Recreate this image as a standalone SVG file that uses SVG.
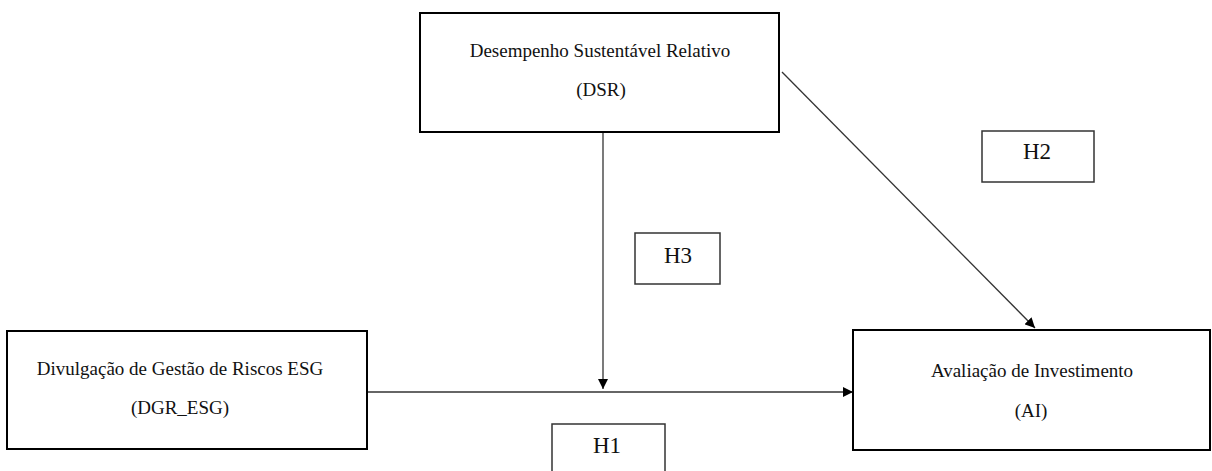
<svg xmlns="http://www.w3.org/2000/svg" width="1212" height="471" viewBox="0 0 1212 471">
<defs>
<style>
.node{fill:#fff;stroke:#000;stroke-width:2}
.hbox{fill:#fff;stroke:#333;stroke-width:1.5}
.t{font-family:"Liberation Serif","Times New Roman",serif;font-size:19px;fill:#111;text-anchor:middle}
.h{font-family:"Liberation Serif","Times New Roman",serif;font-size:23px;fill:#111;text-anchor:middle}
.edge{stroke:#333;stroke-width:1.3;fill:none}
</style>
<marker id="arr" viewBox="0 0 10 10" refX="10" refY="5" markerWidth="10" markerHeight="10" markerUnits="userSpaceOnUse" orient="auto">
<path d="M0,0 L10,5 L0,10 z" fill="#000"/>
</marker>
</defs>
<rect width="1212" height="471" fill="#fff"/>
<g id="connectors">
<line class="edge" x1="367" y1="392" x2="853" y2="392" marker-end="url(#arr)"/>
<line class="edge" x1="603" y1="132" x2="603" y2="389" marker-end="url(#arr)"/>
<line class="edge" x1="782" y1="72" x2="1035" y2="328" marker-end="url(#arr)"/>
</g>
<g id="node-dsr">
<rect class="node" x="420" y="13" width="359" height="119"/>
<text class="t" x="600" y="57">Desempenho Sustentável Relativo</text>
<text class="t" x="601" y="96">(DSR)</text>
</g>
<g id="node-dgr">
<rect class="node" x="7" y="331" width="360" height="118"/>
<text class="t" x="180" y="375">Divulgação de Gestão de Riscos ESG</text>
<text class="t" x="180" y="414">(DGR_ESG)</text>
</g>
<g id="node-ai">
<rect class="node" x="853" y="330" width="357" height="120"/>
<text class="t" x="1032" y="377">Avaliação de Investimento</text>
<text class="t" x="1031" y="417">(AI)</text>
</g>
<g id="label-h3">
<rect class="hbox" x="635" y="233" width="85" height="51"/>
<text class="h" x="678" y="263">H3</text>
</g>
<g id="label-h2">
<rect class="hbox" x="982" y="131" width="112" height="51"/>
<text class="h" x="1037" y="159">H2</text>
</g>
<g id="label-h1">
<rect class="hbox" x="552" y="424" width="113" height="60"/>
<text class="h" x="607" y="453">H1</text>
</g>
</svg>
